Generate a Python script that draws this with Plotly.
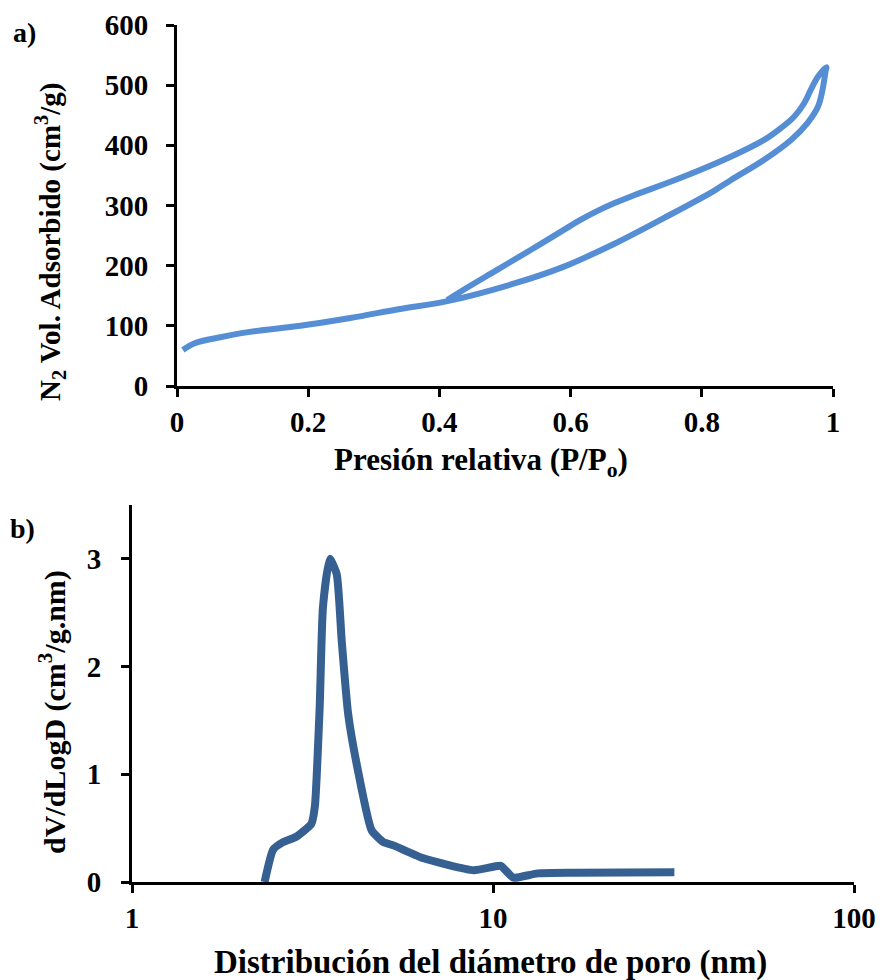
import plotly.graph_objects as go

# ---- data: N2 isotherm (a) ----
p_ads = [0.009, 0.027, 0.066, 0.111, 0.188, 0.264, 0.340, 0.412, 0.513, 0.589, 0.666, 0.742, 0.818, 0.844, 0.895, 0.936, 0.961, 0.977, 0.984, 0.989]
v_ads = [60, 71, 81, 90, 100, 113, 128, 141, 170, 198, 236, 279, 324, 342, 376, 409, 437, 464, 492, 525]
p_des = [0.990, 0.977, 0.966, 0.956, 0.941, 0.921, 0.895, 0.844, 0.768, 0.692, 0.667, 0.641, 0.615, 0.589, 0.539, 0.488, 0.437, 0.412]
v_des = [530, 514, 492, 470, 448, 429, 409, 381, 346, 315, 304, 291, 276, 259, 226, 193, 160, 143]

# ---- data: pore size distribution (b) ----
d_pore = [2.33, 2.46, 2.62, 2.85, 3.14, 3.21, 3.31, 3.38, 3.53, 3.69, 3.81, 3.97, 4.24, 4.61, 4.97, 5.30, 6.42, 8.85, 10.5, 10.9, 11.4, 13.3, 16.8, 31.8]
dv_dlogd = [0.0, 0.30, 0.37, 0.42, 0.54, 0.70, 1.62, 2.55, 3.00, 2.86, 2.24, 1.56, 1.01, 0.48, 0.37, 0.34, 0.22, 0.11, 0.15, 0.10, 0.04, 0.08, 0.086, 0.09]

xa_ticks = [0, 0.2, 0.4, 0.6, 0.8, 1]
xa_text = ["0", "0.2", "0.4", "0.6", "0.8", "1"]
ya_ticks = [0, 100, 200, 300, 400, 500, 600]
xb_ticks = [1, 10, 100]
yb_ticks = [0, 1, 2, 3]

FONT = "Liberation Serif"
W, H = 876, 972   # page adds an 8px body margin
OFF = 8

def fx(px):
    return (px - OFF) / W

def fy(py):
    return 1 - (py - OFF) / H

fig = go.Figure()
fig.add_trace(go.Scatter(x=p_ads + p_des, y=v_ads + v_des, mode="lines",
                         line=dict(color="#558ED5", width=6, shape="spline", smoothing=1.0),
                         xaxis="x", yaxis="y", showlegend=False))
fig.add_trace(go.Scatter(x=d_pore, y=dv_dlogd, mode="lines",
                         line=dict(color="#366092", width=8, shape="spline", smoothing=0.5),
                         xaxis="x2", yaxis="y2", showlegend=False))

tickfont = dict(family=FONT, size=29, color="black", weight="bold")
axis_common = dict(showline=True, linecolor="black", linewidth=3, ticks="outside",
                   ticklen=8, tickwidth=3, tickcolor="black", showgrid=False,
                   zeroline=False, tickfont=tickfont, automargin=False)

fig.update_layout(
    template="none",
    width=W, height=H,
    margin=dict(l=0, r=0, t=0, b=0, pad=0),
    paper_bgcolor="white", plot_bgcolor="white",
    font=dict(family=FONT, color="black"),
    xaxis=dict(domain=[fx(177), fx(833)], range=[0, 1], tickvals=xa_ticks, ticktext=xa_text,
               anchor="y", **axis_common),
    yaxis=dict(domain=[fy(386), fy(25)], range=[0, 600], tickvals=ya_ticks,
               anchor="x", ticklabelstandoff=12, **axis_common),
    xaxis2=dict(domain=[fx(132), fx(854)], type="log", range=[0, 2], tickvals=xb_ticks,
                ticktext=["1", "10", "100"], anchor="y2", **axis_common),
    yaxis2=dict(domain=[fy(882), fy(505)], range=[0, 3.5], tickvals=yb_ticks,
                anchor="x2", ticklabelstandoff=14, **axis_common),
)

ann = [
    dict(text="<b>a)</b>", x=fx(11), y=fy(33), xanchor="left", yanchor="middle", font_size=28),
    dict(text="<b>b)</b>", x=fx(8), y=fy(528), xanchor="left", yanchor="middle", font_size=28),
    dict(text="<b>N<sub>2</sub> Vol. Adsorbido (cm<sup>3</sup>/g)</b>", x=fx(50), y=fy(242),
         textangle=-90, xanchor="center", yanchor="middle", font_size=29),
    dict(text="<b>Presión relativa (P/P<sub>o</sub>)</b>", x=fx(481), y=fy(462),
         xanchor="center", yanchor="middle", font_size=31),
    dict(text="<b>dV/dLogD (cm<sup>3</sup>/g.nm)</b>", x=fx(52), y=fy(712),
         textangle=-90, xanchor="center", yanchor="middle", font_size=30),
    dict(text="<b>Distribución del diámetro de poro (nm)</b>", x=fx(490), y=fy(962),
         xanchor="center", yanchor="middle", font_size=33),
]
for a in ann:
    a.update(xref="paper", yref="paper", showarrow=False)
    a["font"] = dict(family=FONT, color="black", size=a.pop("font_size"))
fig.update_layout(annotations=ann)

fig.write_html("out.html")
